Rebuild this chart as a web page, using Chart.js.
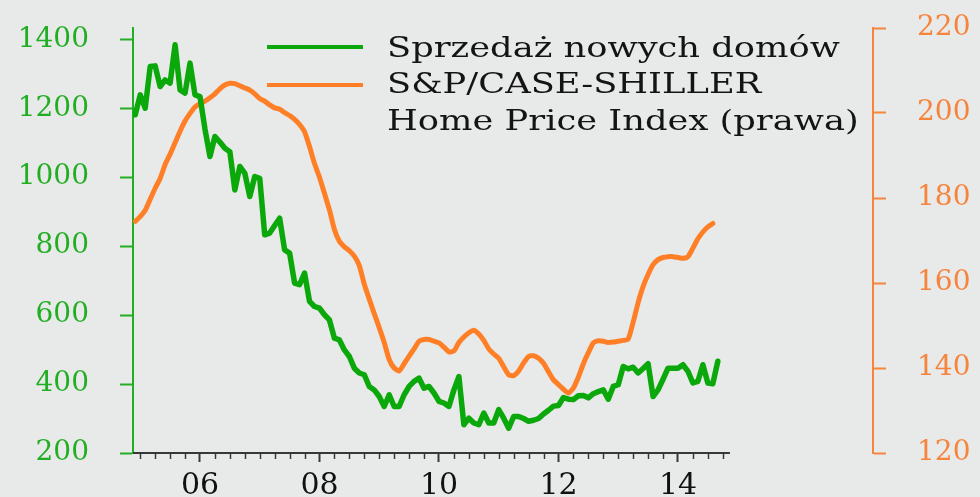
<!DOCTYPE html>
<html><head><meta charset="utf-8">
<script src="https://cdn.jsdelivr.net/npm/chart.js@4.4.1/dist/chart.umd.min.js"></script>
<style>html,body{margin:0;padding:0;background:#e8e9e9;}canvas{display:block;}</style>
</head><body>
<canvas id="c" width="980" height="497"></canvas>
<script>
// first observation: November 2004, monthly to August 2014
const startYear = 2004, startMonth = 11;
// New home sales (thousands, SAAR) - left axis
const newHomeSales = [
  1181,1239,1200,1321,1323,1263,1282,1273,1384,1253,1244,1331,1239,1234,
  1140,1060,1118,1102,1084,1074,963,1031,1012,944,1002,997,
  833,838,860,881,789,780,693,688,722,640,625,620,
  601,586,533,528,499,480,446,432,427,393,383,364,
  335,369,335,335,369,393,408,417,388,393,374,350,
  345,335,383,422,282,301,287,282,316,287,287,326,
  301,272,306,306,300,292,295,300,313,324,336,338,
  361,356,355,366,367,360,372,378,383,356,393,398,
  451,444,449,432,445,459,364,383,414,446,446,446,
  456,437,403,408,456,403,401,466
];
// S&P/Case-Shiller Home Price Index - right axis
const caseShiller = [
  174.5,175.6,177.1,179.7,182.3,184.6,187.9,190.3,193.0,195.7,198.1,199.9,201.4,202.2,
  202.8,203.6,204.5,205.7,206.6,207.0,206.9,206.4,205.9,205.4,204.5,203.4,
  202.8,201.9,201.2,200.9,200.1,199.4,198.5,197.3,195.6,192.1,188.1,184.9,
  181.1,177.2,172.6,169.8,168.5,167.6,166.3,164.1,159.7,156.2,152.8,149.5,
  146.0,142.0,140.0,139.3,141.0,142.8,144.5,146.3,146.7,146.7,146.3,145.9,
  144.9,143.8,144.0,146.0,147.3,148.3,148.9,148.0,146.5,144.5,143.3,142.3,
  140.3,138.4,138.2,139.3,141.2,142.7,142.9,142.3,141.1,139.1,137.2,136.1,
  135.0,134.1,135.3,137.9,141.0,143.6,145.9,146.4,146.3,146.0,146.1,146.3,
  146.5,146.8,150.8,155.4,159.2,162.0,164.3,165.5,166.0,166.2,166.2,166.0,
  165.8,166.2,168.2,170.4,172.0,173.2,174.0,null
];
const leftTicks = [200,400,600,800,1000,1200,1400];
const rightTicks = [120,140,160,180,200,220];
const yearTicks = [2006,2008,2010,2012,2014];
const seriesLabels = ['Sprzedaż nowych domów', ['S&P/CASE-SHILLER', 'Home Price Index (prawa)']];

// month position (end of month, decimal year)
const monthPos = newHomeSales.map((_, i) => {
  const m = startMonth - 1 + i;
  return startYear + Math.floor(m / 12) + ((m % 12) + 1) / 12;
});
const quarterTicks = [];
for (let q = 2005 * 4; q <= 2014.75 * 4; q++) quarterTicks.push(q / 4);
const axisEnd = 2014.87;

const GREEN = '#0aa80a', GREEN_TXT = '#22ae22', ORANGE = '#ff7f27', ORANGE_TXT = '#f7843c';
const SERIF = "'DejaVu Serif', serif";

const noPad = s => { s.paddingTop = 0; s.paddingBottom = 0; s.paddingLeft = 0; s.paddingRight = 0; };

const decor = {
  id: 'decor',
  beforeDraw(chart) {
    const {ctx, width, height} = chart;
    ctx.save(); ctx.fillStyle = '#e8e9e9'; ctx.fillRect(0, 0, width, height); ctx.restore();
  },
  afterDraw(chart) {
    const {ctx, chartArea, scales: {x}} = chart;
    const y0 = chartArea.bottom;
    ctx.save();
    ctx.strokeStyle = '#383838';
    ctx.lineWidth = 2;
    ctx.beginPath(); ctx.moveTo(chartArea.left, y0); ctx.lineTo(x.getPixelForValue(axisEnd), y0); ctx.stroke();
    ctx.lineWidth = 1.5;
    for (const q of quarterTicks) {
      if (yearTicks.includes(q)) continue;
      const px = Math.round(x.getPixelForValue(q)) + 0.5;
      ctx.beginPath(); ctx.moveTo(px, y0); ctx.lineTo(px, y0 + 6); ctx.stroke();
    }
    // legend
    const ds = chart.data.datasets;
    const rows = [{y: 47, base: [57]}, {y: 85, base: [93, 130]}];
    ds.forEach((d, i) => {
      const r = rows[i];
      ctx.strokeStyle = d.borderColor; ctx.lineWidth = 4; ctx.lineCap = 'butt';
      ctx.beginPath(); ctx.moveTo(267, r.y); ctx.lineTo(363, r.y); ctx.stroke();
      const lines = Array.isArray(d.label) ? d.label : [d.label];
      ctx.fillStyle = '#141414';
      ctx.font = "28px " + SERIF;
      ctx.textBaseline = 'alphabetic';
      lines.forEach((t, k) => {
        ctx.save(); ctx.translate(387, r.base[k]); ctx.scale(1.26, 1); ctx.fillText(t, 0, 0); ctx.restore();
      });
    });
    ctx.restore();
  }
};

new Chart(document.getElementById('c'), {
  type: 'line',
  data: {
    datasets: [
      { label: seriesLabels[0], data: monthPos.map((p, i) => ({x: p, y: newHomeSales[i]})),
        yAxisID: 'y', borderColor: GREEN, borderWidth: 5.5, pointRadius: 0, tension: 0,
        borderJoinStyle: 'round', borderCapStyle: 'round' },
      { label: seriesLabels[1], data: monthPos.map((p, i) => ({x: p, y: caseShiller[i]})),
        yAxisID: 'y1', borderColor: ORANGE, borderWidth: 5, pointRadius: 0, tension: 0.2,
        borderJoinStyle: 'round', borderCapStyle: 'round', spanGaps: false }
    ]
  },
  options: {
    responsive: false, animation: false,
    layout: { padding: { top: 28, left: 0, right: 0, bottom: 0 } },
    plugins: { legend: { display: false }, tooltip: { enabled: false } },
    scales: {
      x: {
        type: 'linear', min: 2004.879, max: 2017.264,
        afterBuildTicks: s => { s.ticks = yearTicks.map(v => ({value: v})); },
        afterFit: s => { s.height = 44; noPad(s); },
        ticks: { autoSkip: false, maxRotation: 0, padding: 6, color: '#111',
          font: { family: SERIF, size: 30 },
          callback: v => String(v % 100).padStart(2, '0') },
        grid: { drawOnChartArea: false, drawTicks: true, tickLength: 9, tickWidth: 2, tickColor: '#383838' },
        border: { display: false }
      },
      y: {
        position: 'left', min: 200, max: 1432.8,
        afterBuildTicks: s => { s.ticks = leftTicks.map(v => ({value: v})); },
        afterFit: s => { s.width = 133; noPad(s); },
        ticks: { color: GREEN_TXT, padding: 31, font: { family: SERIF, size: 28 }, callback: v => String(v) },
        grid: { drawOnChartArea: false, tickLength: 13, tickWidth: 2, tickColor: GREEN_TXT },
        border: { color: GREEN_TXT, width: 2 }
      },
      y1: {
        position: 'right', min: 120, max: 220,
        afterBuildTicks: s => { s.ticks = rightTicks.map(v => ({value: v})); },
        afterFit: s => { s.width = 107; noPad(s); },
        ticks: { color: ORANGE_TXT, padding: 31, font: { family: SERIF, size: 28 }, callback: v => String(v) },
        grid: { drawOnChartArea: false, tickLength: 13, tickWidth: 2, tickColor: ORANGE_TXT },
        border: { color: ORANGE_TXT, width: 2 }
      }
    }
  },
  plugins: [decor]
});
</script>
</body></html>
